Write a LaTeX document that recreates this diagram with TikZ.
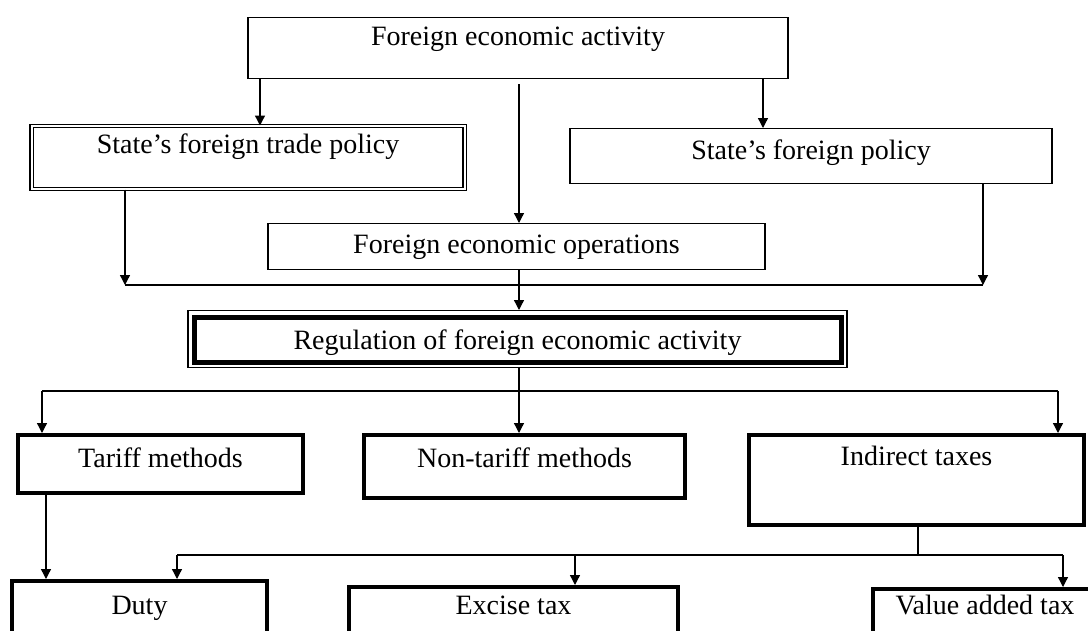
\documentclass[tikz,border=0pt]{standalone}
\usepackage{fontspec}
\setmainfont{Liberation Serif}
\usetikzlibrary{arrows.meta}
\begin{document}
\begin{tikzpicture}[x=1pt,y=-1pt,
  every node/.style={font=\fontsize{28}{30}\selectfont, inner xsep=0pt, inner ysep=0pt, anchor=north},
  thinbox/.style={draw=black, line width=1.3pt},
  dblbox/.style={draw=black, line width=1.2pt, double=white, double distance=2pt},
  thickbox/.style={draw=black, line width=4pt},
  heavybox/.style={draw=black, line width=5pt},
  conn/.style={draw=black, line width=1.3pt},
  arr/.style={conn, -{Triangle[width=10pt,length=10pt]}}
]
\clip (0,0) rectangle (1088,630);
\useasboundingbox (0,0) rectangle (1088,630);

% boxes: minimum width = W, text height = baseline offset, text depth = H - b
\node[thinbox, minimum width=540pt, text height=28pt, text depth=33pt] (A) at (518,17) {Foreign economic activity};
\node[dblbox, minimum width=433pt, text height=27.5pt, text depth=35.5pt] (B) at (248,125.5) {State’s foreign trade policy};
\node[thinbox, minimum width=482pt, text height=31pt, text depth=24pt] (C) at (811,128) {State’s foreign policy};
\node[thinbox, minimum width=497pt, text height=30pt, text depth=16pt] (D) at (516.5,223) {Foreign economic operations};
\node[thinbox, minimum width=659pt, minimum height=57pt] (Eo) at (517.5,310) {};
\node[heavybox, minimum width=647pt, text height=32pt, text depth=12.5pt] (E) at (517.5,315) {Regulation of foreign economic activity};
\node[thickbox, minimum width=285pt, text height=32pt, text depth=26pt] (F) at (160.5,433) {Tariff methods};
\node[thickbox, minimum width=321pt, text height=32pt, text depth=31pt] (G) at (524.5,433) {Non-tariff methods};
\node[thickbox, minimum width=335pt, text height=30pt, text depth=60pt] (H) at (916.5,433) {Indirect taxes};
\node[thickbox, minimum width=255pt, text height=33pt, text depth=40pt] (Du) at (139.5,579) {Duty};
\node[thickbox, minimum width=329pt, text height=27pt, text depth=40pt] (Ex) at (513.5,585) {Excise tax};
\node[thickbox, minimum width=224pt, text height=25pt, text depth=40pt] (Va) at (985,587) {Value added tax};

% helper coordinates
\coordinate (xa) at (260,0);
\coordinate (xc) at (763,0);
\coordinate (c0) at (519,84);
\coordinate (j1L) at (125,285);
\coordinate (j1R) at (983,285);
\coordinate (j2L) at (42,391);
\coordinate (j2R) at (1058,391);
\coordinate (xf) at (46,0);
\coordinate (j3) at (918,555);
\coordinate (j3L) at (177,555);
\coordinate (j3M) at (575,555);
\coordinate (j3R) at (1063,555);

% connectors
\draw[arr] (A.south -| xa) -- (B.north -| xa);
\draw[arr] (A.south -| xc) -- (C.north -| xc);
\draw[arr] (c0) -- (D.north -| c0);
\draw[arr] (B.south -| j1L) -- (j1L);
\draw[arr] (C.south -| j1R) -- (j1R);
\draw[conn] (j1L) -- (j1R);
\draw[arr] (D.south -| c0) -- (Eo.north -| c0);
\draw[arr] (Eo.south -| c0) -- (G.north -| c0);
\draw[conn] (j2L) -- (j2R);
\draw[arr] (j2L) -- (F.north -| j2L);
\draw[arr] (j2R) -- (H.north -| j2R);
\draw[arr] (F.south -| xf) -- (Du.north -| xf);
\draw[conn] (H.south -| j3) -- (j3);
\draw[conn] (j3L) -- (j3R);
\draw[arr] (j3L) -- (Du.north -| j3L);
\draw[arr] (j3M) -- (Ex.north -| j3M);
\draw[arr] (j3R) -- (Va.north -| j3R);
\end{tikzpicture}
\end{document}
